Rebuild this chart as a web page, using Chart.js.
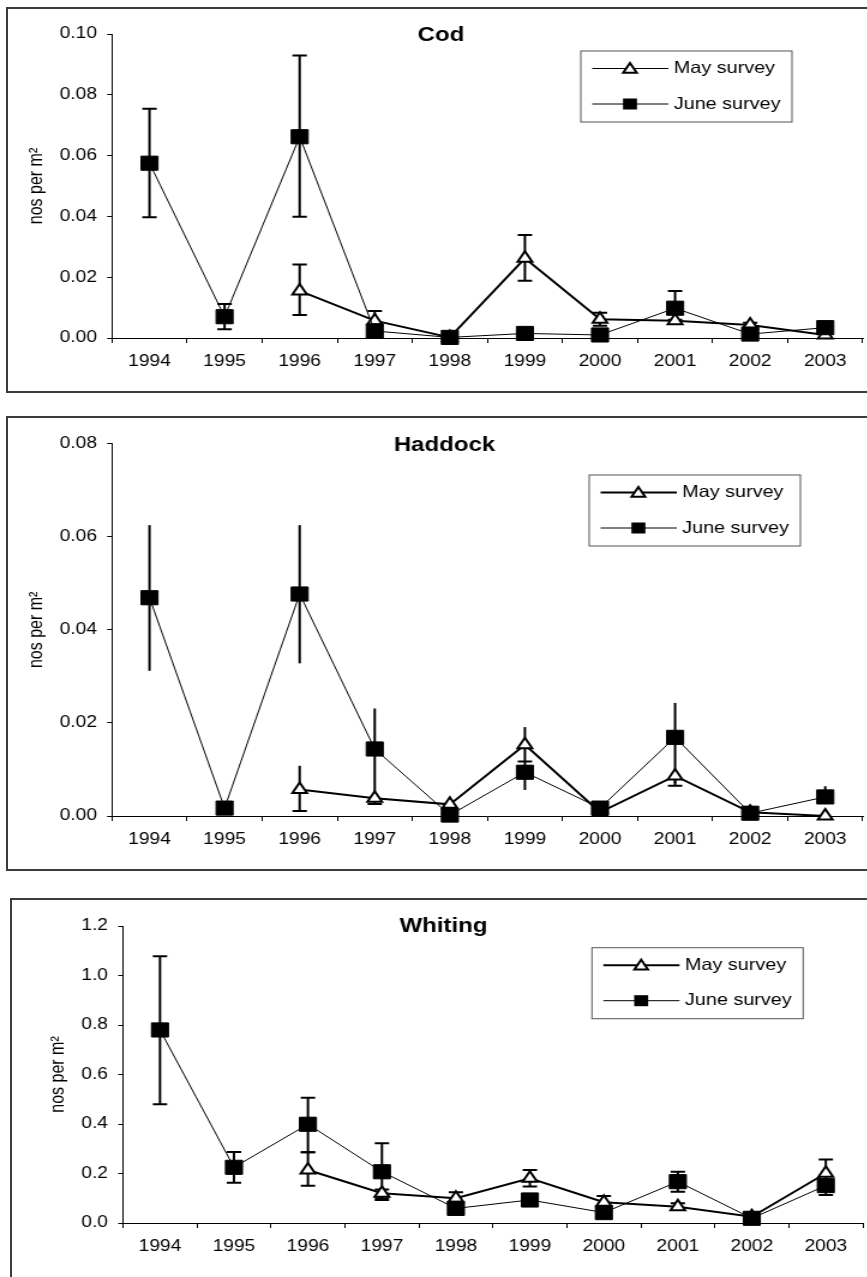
<!DOCTYPE html>
<html>
<head>
<meta charset="utf-8">
<title>Cod, Haddock and Whiting - nos per m2</title>
<script src="https://cdn.jsdelivr.net/npm/chart.js"></script>
<style>
    html, body {
        margin: 0;
        background: #fff;
        overflow: hidden;
    }
    body {
        position: relative;
        width: 867px;
        height: 1277px;
    }
    .frame {
        position: absolute;
        border: 2px solid #3c3c3c;
        box-sizing: border-box;
    }
    canvas {
        position: absolute;
        left: 0;
        /* the original figure is stretched sideways */
        transform: scaleX(1.2);
        transform-origin: 0 0;
    }
</style>
</head>
<body>
<div class="frame" style="left:6px;top:7px;width:900px;height:386px"></div>
<div class="frame" style="left:6px;top:416px;width:900px;height:455px"></div>
<div class="frame" style="left:10px;top:898px;width:900px;height:500px"></div>

<canvas id="cod" width="730" height="380" style="top:10px"></canvas>
<canvas id="haddock" width="730" height="450" style="top:418px"></canvas>
<canvas id="whiting" width="730" height="376" style="top:901px"></canvas>

<script>
    // x categories
    const years = ['1994', '1995', '1996', '1997', '1998', '1999', '2000', '2001', '2002', '2003'];

    // Cod (nos per m2), error bars as upper / lower ends
    const codMay = [null, null, 0.0155, 0.0057, 0.0002, 0.0262, 0.0062, 0.0057, 0.0043, 0.0010];
    const codMayHi = [null, null, 0.0242, 0.0089, null, 0.0339, 0.0083, null, 0.0050, null];
    const codMayLo = [null, null, 0.0076, 0.0030, null, 0.0188, 0.0040, null, 0.0036, null];
    const codJune = [0.0575, 0.0070, 0.0662, 0.0023, 0.0002, 0.0015, 0.0010, 0.0098, 0.0013, 0.0034];
    const codJuneHi = [0.0754, 0.0112, 0.0929, null, null, null, null, 0.0155, null, null];
    const codJuneLo = [0.0397, 0.0029, 0.0399, null, null, null, null, 0.0060, null, null];

    // Haddock
    const hadMay = [null, null, 0.0057, 0.0038, 0.0025, 0.0153, 0.0008, 0.0086, 0.0008, 0.0000];
    const hadMayHi = [null, null, 0.0108, 0.0045, null, 0.0191, null, 0.0100, null, null];
    const hadMayLo = [null, null, 0.0011, 0.0026, null, 0.0117, null, 0.0065, null, null];
    const hadJune = [0.0469, 0.0017, 0.0477, 0.0144, 0.0002, 0.0094, 0.0017, 0.0169, 0.0006, 0.0041];
    const hadJuneHi = [0.0625, null, 0.0625, 0.0231, null, 0.0117, null, 0.0243, null, 0.0064];
    const hadJuneLo = [0.0312, null, 0.0328, 0.0040, null, 0.0056, null, 0.0070, null, null];

    // Whiting
    const whiMay = [null, null, 0.214, 0.120, 0.100, 0.181, 0.084, 0.066, 0.025, 0.201];
    const whiMayHi = [null, null, 0.286, 0.135, 0.124, 0.214, 0.109, 0.080, null, 0.257];
    const whiMayLo = [null, null, 0.151, 0.093, 0.080, 0.147, 0.065, 0.055, null, 0.150];
    const whiJune = [0.780, 0.225, 0.399, 0.207, 0.059, 0.093, 0.042, 0.167, 0.019, 0.151];
    const whiJuneHi = [1.078, 0.287, 0.506, 0.322, null, null, null, 0.207, null, null];
    const whiJuneLo = [0.480, 0.163, 0.286, 0.100, null, null, null, 0.126, null, 0.113];

    const seriesNames = ['May survey', 'June survey'];
    const yTitle = 'nos per m\u00B2';

    const FONT = '"Liberation Sans", Arial, Helvetica, sans-serif';
    Chart.defaults.font.family = FONT;
    Chart.defaults.color = '#000';

    // layout of each panel, in canvas units (canvas is stretched by 1.2 sideways)
    const panels = [
        {
            id: 'cod', title: 'Cod', max: 0.10, step: 0.02, dec: 2,
            may: codMay, mayHi: codMayHi, mayLo: codMayLo,
            june: codJune, juneHi: codJuneHi, juneLo: codJuneLo,
            caps: { mayHi: true, mayLo: true, juneHi: true, juneLo: true },
            padLeft: 0, chartLeft: 93.3, right: 724.2, top: 24, axisH: 52,
            titleX: 367.5, titleY: 25, legX: 484, legY: 41, legMayWidth: 1.2
        },
        {
            id: 'haddock', title: 'Haddock', max: 0.08, step: 0.02, dec: 2,
            may: hadMay, mayHi: hadMayHi, mayLo: hadMayLo,
            june: hadJune, juneHi: hadJuneHi, juneLo: hadJuneLo,
            caps: { mayHi: false, mayLo: true, juneHi: false, juneLo: false },
            padLeft: 0, chartLeft: 93.3, right: 727.5, top: 25.7, axisH: 52,
            titleX: 370.4, titleY: 27, legX: 491, legY: 57, legMayWidth: 2
        },
        {
            id: 'whiting', title: 'Whiting', max: 1.2, step: 0.2, dec: 1,
            may: whiMay, mayHi: whiMayHi, mayLo: whiMayLo,
            june: whiJune, juneHi: whiJuneHi, juneLo: whiJuneLo,
            caps: { mayHi: true, mayLo: true, juneHi: true, juneLo: true },
            padLeft: 17.5, chartLeft: 102.5, right: 722.5, top: 25, axisH: 54,
            titleX: 369.6, titleY: 25, legX: 493.3, legY: 46.7, legMayWidth: 2
        }
    ];

    function drawTriangle(ctx, x, y, r) {
        ctx.beginPath();
        ctx.moveTo(x, y - r);
        ctx.lineTo(x + r * Math.sin(Math.PI / 3), y + r / 2);
        ctx.lineTo(x - r * Math.sin(Math.PI / 3), y + r / 2);
        ctx.closePath();
        ctx.fillStyle = '#fff';
        ctx.fill();
        ctx.lineWidth = 2;
        ctx.strokeStyle = '#000';
        ctx.stroke();
    }

    // error bars, title and boxed legend
    function makeExtras(p) {
        return {
            id: 'extras',
            beforeDatasetsDraw(chart) {
                const ctx = chart.ctx;
                const yScale = chart.scales.y;
                const bars = [
                    { ds: 0, val: p.may, hi: p.mayHi, lo: p.mayLo, capHi: p.caps.mayHi, capLo: p.caps.mayLo },
                    { ds: 1, val: p.june, hi: p.juneHi, lo: p.juneLo, capHi: p.caps.juneHi, capLo: p.caps.juneLo }
                ];
                ctx.save();
                ctx.strokeStyle = '#000';
                ctx.lineWidth = 2;
                bars.forEach(b => {
                    const meta = chart.getDatasetMeta(b.ds);
                    b.val.forEach((v, i) => {
                        if (v == null) return;
                        const x = meta.data[i].x;
                        const y0 = yScale.getPixelForValue(v);
                        [[b.hi[i], b.capHi], [b.lo[i], b.capLo]].forEach(([end, cap]) => {
                            if (end == null) return;
                            const ye = yScale.getPixelForValue(end);
                            ctx.beginPath();
                            ctx.moveTo(x, y0);
                            ctx.lineTo(x, ye);
                            if (cap) {
                                ctx.moveTo(x - 6, ye);
                                ctx.lineTo(x + 6, ye);
                            }
                            ctx.stroke();
                        });
                    });
                });
                ctx.restore();
            },
            afterDraw(chart) {
                const ctx = chart.ctx;
                ctx.save();
                // panel title
                ctx.fillStyle = '#000';
                ctx.font = 'bold 20px ' + FONT;
                ctx.textAlign = 'center';
                ctx.textBaseline = 'middle';
                ctx.fillText(p.title, p.titleX, p.titleY);

                // legend box
                const lx = p.legX, ly = p.legY;
                ctx.fillStyle = '#fff';
                ctx.fillRect(lx, ly, 176, 71);
                ctx.strokeStyle = '#555';
                ctx.lineWidth = 1;
                ctx.strokeRect(lx, ly, 176, 71);

                const rows = [ly + 17.5, ly + 53];
                ctx.strokeStyle = '#000';
                // May row
                ctx.lineWidth = p.legMayWidth;
                ctx.beginPath();
                ctx.moveTo(lx + 9.5, rows[0]);
                ctx.lineTo(lx + 73, rows[0]);
                ctx.stroke();
                drawTriangle(ctx, lx + 41, rows[0] + 1, 6.5);
                // June row
                ctx.lineWidth = 1;
                ctx.beginPath();
                ctx.moveTo(lx + 9.5, rows[1]);
                ctx.lineTo(lx + 73, rows[1]);
                ctx.stroke();
                ctx.fillStyle = '#000';
                ctx.fillRect(lx + 41 - 5.8, rows[1] - 5.5, 11.6, 11);

                ctx.fillStyle = '#000';
                ctx.font = '16.5px ' + FONT;
                ctx.textAlign = 'left';
                ctx.textBaseline = 'middle';
                ctx.fillText(seriesNames[0], lx + 77.5, rows[0]);
                ctx.fillText(seriesNames[1], lx + 77.5, rows[1]);
                ctx.restore();
            }
        };
    }

    function createPanel(p) {
        const canvas = document.getElementById(p.id);
        new Chart(canvas.getContext('2d'), {
            type: 'line',
            data: {
                labels: years,
                datasets: [
                    {
                        label: seriesNames[0],
                        data: p.may,
                        borderColor: '#000',
                        borderWidth: 2,
                        pointStyle: 'triangle',
                        pointRadius: 7,
                        pointBackgroundColor: '#fff',
                        pointBorderColor: '#000',
                        pointBorderWidth: 2,
                        tension: 0,
                        clip: false,
                        order: 2
                    },
                    {
                        label: seriesNames[1],
                        data: p.june,
                        borderColor: '#000',
                        borderWidth: 1,
                        pointStyle: 'rect',
                        pointRadius: 10,
                        pointBackgroundColor: '#000',
                        pointBorderColor: '#000',
                        pointBorderWidth: 1,
                        tension: 0,
                        clip: false,
                        order: 1
                    }
                ]
            },
            options: {
                responsive: false,
                animation: false,
                events: [],
                layout: {
                    padding: { left: p.padLeft, right: canvas.width - p.right, top: p.top, bottom: 0 }
                },
                plugins: {
                    legend: { display: false },
                    tooltip: { enabled: false },
                    title: { display: false }
                },
                scales: {
                    x: {
                        offset: true,
                        grid: {
                            offset: true,
                            drawOnChartArea: false,
                            drawTicks: true,
                            tickLength: 5,
                            color: '#000'
                        },
                        border: { color: '#000', width: 1 },
                        ticks: {
                            font: { size: 16 },
                            padding: 9,
                            maxRotation: 0,
                            autoSkip: false
                        },
                        afterFit: s => { s.height = p.axisH; }
                    },
                    y: {
                        min: 0,
                        max: p.max,
                        grid: {
                            drawOnChartArea: false,
                            drawTicks: true,
                            tickLength: 4,
                            color: '#000'
                        },
                        border: { color: '#000', width: 1 },
                        ticks: {
                            stepSize: p.step,
                            font: { size: 16 },
                            padding: 8.5,
                            callback: v => Number(v).toFixed(p.dec)
                        },
                        title: {
                            display: true,
                            text: yTitle,
                            font: { size: 16 },
                            padding: { top: 21, bottom: 0 }
                        },
                        afterFit: s => { s.width = p.chartLeft - p.padLeft; }
                    }
                }
            },
            plugins: [makeExtras(p)]
        });
    }

    panels.forEach(createPanel);
</script>
</body>
</html>
